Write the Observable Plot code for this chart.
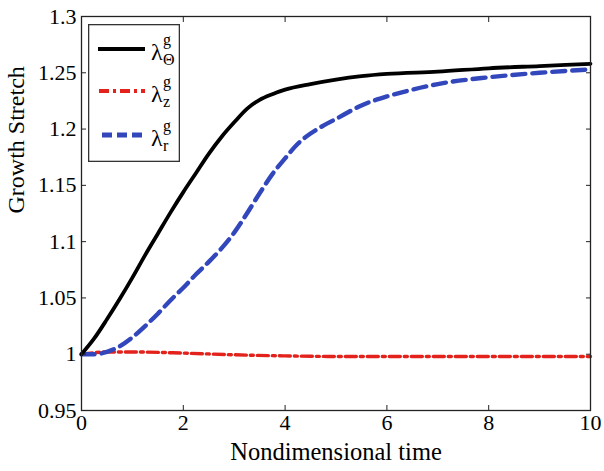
<!DOCTYPE html>
<html>
<head>
<meta charset="utf-8">
<script src="https://cdn.jsdelivr.net/npm/d3@7"></script>
<script src="https://cdn.jsdelivr.net/npm/@observablehq/plot@0.6"></script>
<style>
  html, body { margin: 0; padding: 0; background: #fff; }
  #wrap { position: relative; width: 604px; height: 471px; overflow: hidden; }
  #wrap svg text { font-family: "Liberation Serif", serif !important; }
  #legend { position: absolute; left: 88px; top: 24px; }
</style>
</head>
<body>
<div id="wrap"></div>
<script>
// ---- data ----
const tTheta = [0, 0.25, 0.5, 0.75, 1.0, 1.25, 1.5, 1.75, 2.0, 2.25, 2.5, 2.75, 3.0, 3.25, 3.5, 3.75, 4.0, 4.5, 5.0, 5.5, 6.0, 7.0, 8.0, 9.0, 10.0];
const vTheta = [1.0, 1.014, 1.031, 1.049, 1.068, 1.088, 1.107, 1.126, 1.144, 1.161, 1.178, 1.193, 1.206, 1.218, 1.226, 1.231, 1.235, 1.240, 1.244, 1.247, 1.249, 1.251, 1.254, 1.256, 1.258];

const tZ = [0, 0.5, 1.0, 2.0, 3.0, 4.0, 5.0, 6.0, 7.0, 8.0, 9.0, 10.0];
const vZ = [1.0, 1.002, 1.002, 1.001, 0.9995, 0.9985, 0.998, 0.998, 0.998, 0.998, 0.998, 0.998];

const tR = [0, 0.25, 0.5, 0.75, 1.0, 1.25, 1.5, 1.75, 2.0, 2.25, 2.5, 2.75, 3.0, 3.25, 3.5, 3.75, 4.0, 4.25, 4.5, 4.75, 5.0, 5.5, 6.0, 6.5, 7.0, 8.0, 9.0, 10.0];
const vR = [1.0, 1.0, 1.002, 1.007, 1.015, 1.025, 1.036, 1.048, 1.059, 1.071, 1.082, 1.094, 1.108, 1.125, 1.143, 1.160, 1.174, 1.187, 1.196, 1.203, 1.209, 1.221, 1.229, 1.235, 1.240, 1.246, 1.250, 1.253];

const xTicks = [0, 2, 4, 6, 8, 10];
const yTicks = [0.95, 1, 1.05, 1.1, 1.15, 1.2, 1.25, 1.3];
const yTickLabels = ["0.95", "1", "1.05", "1.1", "1.15", "1.2", "1.25", "1.3"];
const xLabel = "Nondimensional time";
const yLabel = "Growth Stretch";

const seriesNames = ["theta", "z", "r"];
const seriesColors = ["#000000", "#e3221c", "#3347bd"];
const seriesWidths = [3.8, 3.4, 4.4];
const seriesDash = [null, "11,4,3,4", "13,7"];

const rows = (ts, vs) => ts.map((t, i) => ({t, v: vs[i]}));
const dataTheta = rows(tTheta, vTheta);
const dataZ = rows(tZ, vZ);
const dataR = rows(tR, vR);

const font = "Liberation Serif, serif";

const chart = Plot.plot({
  width: 604,
  height: 471,
  marginLeft: 81,
  marginRight: 14,
  marginTop: 16,
  marginBottom: 61,
  style: {fontFamily: font, fontSize: "22px", color: "#000", background: "#fff"},
  x: {domain: [0, 10]},
  y: {domain: [0.95, 1.3]},
  marks: [
    Plot.line(dataZ, {x: "t", y: "v", stroke: seriesColors[1], strokeWidth: seriesWidths[1], strokeDasharray: seriesDash[1], curve: "monotone-x"}),
    Plot.line(dataR, {x: "t", y: "v", stroke: seriesColors[2], strokeWidth: seriesWidths[2], strokeDasharray: seriesDash[2], curve: "monotone-x"}),
    Plot.line(dataTheta, {x: "t", y: "v", stroke: seriesColors[0], strokeWidth: seriesWidths[0], curve: "monotone-x"}),
    Plot.frame({stroke: "#222", strokeWidth: 1.3}),
    Plot.axisX(xTicks, {anchor: "bottom", tickSize: -5, text: null, label: null, stroke: "#222"}),
    Plot.axisX(xTicks, {anchor: "top", tickSize: -5, text: null, label: null, stroke: "#222"}),
    Plot.axisY(yTicks, {anchor: "left", tickSize: -5, text: null, label: null, stroke: "#222"}),
    Plot.axisY(yTicks, {anchor: "right", tickSize: -5, text: null, label: null, stroke: "#222"}),
    Plot.axisX(xTicks, {anchor: "bottom", tickSize: 0, tickPadding: 4, label: null, tickFormat: d => String(d)}),
    Plot.axisY(yTicks, {anchor: "left", tickSize: 0, tickPadding: 5, label: null, tickFormat: (d, i) => yTickLabels[i]}),
    Plot.text([xLabel], {frameAnchor: "bottom", dy: 49, fontSize: 24.5, text: d => d}),
    Plot.text([yLabel], {frameAnchor: "left", dx: -65, rotate: -90, fontSize: 24, text: d => d})
  ]
});

const wrap = document.getElementById("wrap");
wrap.appendChild(chart);

const legendLabels = [["g", "\u0398"], ["g", "z"], ["g", "r"]];
const lw = 92, lh = 138;
const leg = d3.create("svg").attr("id", "legend").attr("width", lw).attr("height", lh)
  .style("font-family", font);
leg.append("rect").attr("x", 0.65).attr("y", 0.65).attr("width", lw - 1.3).attr("height", lh - 1.3)
  .attr("fill", "#fff").attr("stroke", "#333").attr("stroke-width", 1.3);
const rowsY = [25, 67, 111];
const lineX0 = [10, 11, 14], lineX1 = [57, 57, 55];
seriesNames.forEach((s, i) => {
  const y = rowsY[i];
  leg.append("line").attr("x1", lineX0[i]).attr("x2", lineX1[i]).attr("y1", y).attr("y2", y)
    .attr("stroke", seriesColors[i]).attr("stroke-width", seriesWidths[i] + 0.4)
    .attr("stroke-dasharray", seriesDash[i] ? (i === 1 ? "10,4,3,4" : "10,5") : null);
  leg.append("text").attr("x", 63).attr("y", y + 11).attr("font-size", 24).text("\u03bb");
  leg.append("text").attr("x", 75).attr("y", y - 4).attr("font-size", 16).text(legendLabels[i][0]);
  leg.append("text").attr("x", 75).attr("y", y + 16).attr("font-size", 16).text(legendLabels[i][1]);
});
wrap.appendChild(leg.node());
</script>
</body>
</html>
